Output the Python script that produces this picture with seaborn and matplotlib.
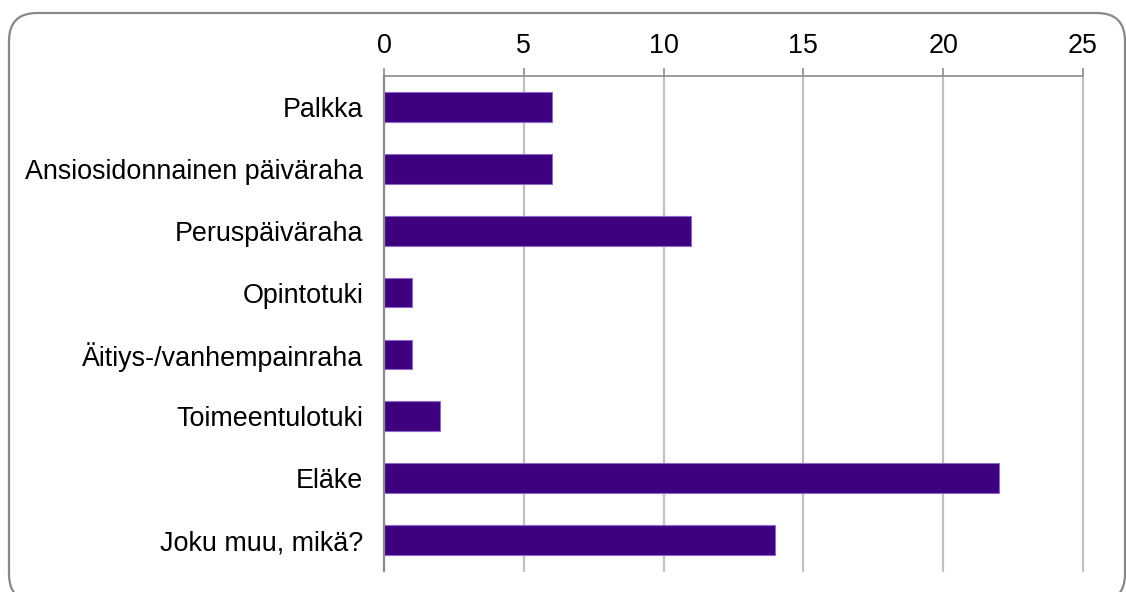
import matplotlib
matplotlib.use("Agg")
import matplotlib.pyplot as plt
from matplotlib.patches import FancyBboxPatch
from matplotlib.transforms import IdentityTransform
import seaborn as sns
import pandas as pd

categories = [
    "Palkka",
    "Ansiosidonnainen päiväraha",
    "Peruspäiväraha",
    "Opintotuki",
    "Äitiys-/vanhempainraha",
    "Toimeentulotuki",
    "Eläke",
    "Joku muu, mikä?",
]
values = [6, 6, 11, 1, 1, 2, 22, 14]
x_ticks = [0, 5, 10, 15, 20, 25]

df = pd.DataFrame({"category": categories, "value": values})

sns.set_theme(style="white")
plt.rcParams["font.family"] = ["Liberation Sans", "DejaVu Sans"]

fig = plt.figure(figsize=(11.26, 5.92), dpi=100)
ax = fig.add_axes([0.341, 0.0355, 0.6207, 0.836])

sns.barplot(data=df, x="value", y="category", orient="h", color="#3F0080",
            edgecolor="#8a6cc8", linewidth=0.8, width=0.48, saturation=1, ax=ax)

ax.set_xlim(0, 25)
ax.set_xticks(x_ticks)
ax.set_xticklabels([str(t) for t in x_ticks])
ax.xaxis.tick_top()
ax.set_xlabel("")
ax.set_ylabel("")
ax.set_ylim(len(categories) - 0.5, -0.5)

ax.grid(axis="x", color="#c0c0c0", linewidth=1.6)
for gl in ax.get_xgridlines():
    gl.set_clip_on(False)
ax.set_axisbelow(True)
for side in ["right", "bottom"]:
    ax.spines[side].set_visible(False)
ax.spines["top"].set_color("#8c8c8c")
ax.spines["top"].set_linewidth(1.2)
ax.spines["left"].set_color("#8c8c8c")
ax.spines["left"].set_linewidth(1.6)

ax.tick_params(axis="x", which="major", top=True, length=6, width=1.2,
               color="#8c8c8c", labelsize=19.4, pad=6.5, labelcolor="black")
ax.tick_params(axis="y", left=False, labelsize=19.4, pad=9, labelcolor="black")

# rounded outer frame, in pixel units (bottom edge runs just past the canvas)
frame = FancyBboxPatch((9, -10), 1116, 589,
                       boxstyle="round,pad=0,rounding_size=28",
                       transform=IdentityTransform(), fill=False,
                       edgecolor="#888888", linewidth=1.6)
fig.patches.append(frame)

fig.savefig("out.png", dpi=100)
